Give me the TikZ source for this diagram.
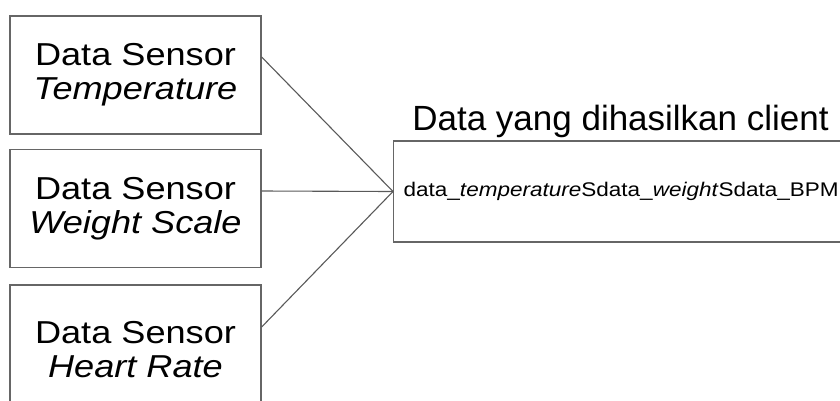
\documentclass[tikz,border=0pt]{standalone}
\usepackage{fontspec}
\setmainfont{Liberation Sans}
% box labels are set slightly widened
\newfontfamily\widefont[FakeStretch=1.14]{Liberation Sans}
\begin{document}
\begin{tikzpicture}[x=1pt,y=-1pt,
  sensorbox/.style={draw=black!60, line width=1.3pt, minimum width=251pt,
    minimum height=118pt, align=center,
    font=\widefont\fontsize{31.7}{34}\selectfont, inner sep=0pt},
  link/.style={draw=black!65, line width=1.1pt}]
\useasboundingbox (0,0) rectangle (840,400);
\clip (0,0) rectangle (840,400);

% sensor sources
\node[sensorbox] (temp) at (135.5,75) {Data Sensor\\\textit{Temperature}};
\node[sensorbox] (weight) at (135.5,208.5) {Data Sensor\\\textit{Weight Scale}};
\node[sensorbox, minimum height=130pt] (heart) at (135.5,350) {Data Sensor\\\textit{Heart Rate}};

% combined client payload
\node[draw=black!60, line width=1.3pt, anchor=west, minimum height=101pt,
  text width=470pt, inner xsep=10pt, align=left,
  font=\widefont\fontsize{19.75}{24}\selectfont] (client) at (393,191.5)
  {data\_\textit{temperature}Sdata\_\textit{weight}Sdata\_BPM};
\node[anchor=base, font=\fontsize{35}{40}\selectfont] (title) at (620.5,130)
  {Data yang dihasilkan client};

% connectors
\draw[link] ([yshift=18pt]temp.east) -- (client.west);
\draw[link] ([yshift=17.5pt]weight.east) -- (client.west);
\draw[link] ([yshift=23pt]heart.east) -- (client.west);
\end{tikzpicture}
\end{document}
